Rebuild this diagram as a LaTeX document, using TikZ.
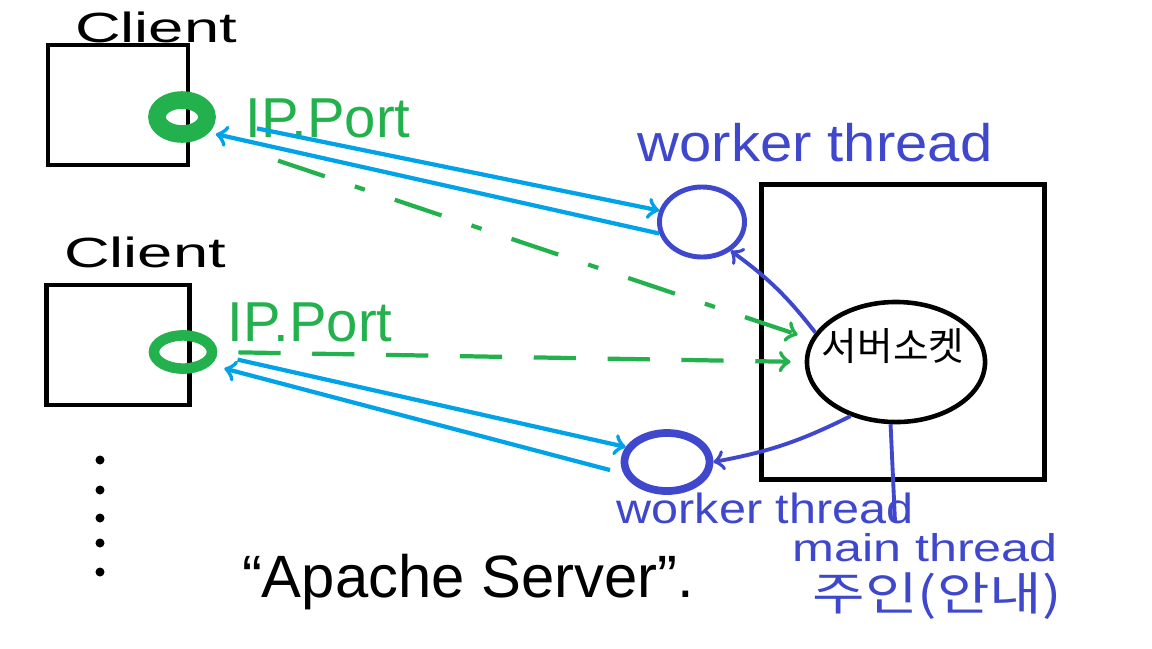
\documentclass[tikz,border=0pt]{standalone}
\usepackage{fontspec}
\setmainfont{Liberation Sans}
\newfontfamily\krfont{Noto Sans CJK KR}
\usetikzlibrary{shapes.geometric}
\definecolor{paintgreen}{RGB}{34,177,76}
\definecolor{paintcyan}{RGB}{0,162,232}
\definecolor{paintblue}{RGB}{63,72,204}

\tikzset{
  box/.style={draw, line width=1.2pt, minimum width=1.4cm, minimum height=1.2cm},
  socket/.style={ellipse, draw=paintgreen, line width=3pt},
  thread/.style={ellipse, draw=paintblue, line width=1.4pt},
  msg/.style={->, paintcyan, line width=1.2pt},
  conn/.style={->, paintgreen, line width=1.2pt},
  hand/.style={paintblue, line width=1.1pt},
  wide/.style={xscale=#1, transform shape},
}

\begin{document}
\begin{tikzpicture}[x=0.01cm, y=-0.01cm]
\path[fill=white, use as bounding box] (0,0) rectangle (1152,648);

\begin{scope}
  \node[box] (client1) at (118,105) {};
  \node[wide=1.5, font=\fontsize{12}{14}\selectfont] (client1label) at (156,27) {Client};
  \node[socket, line width=5pt, minimum width=0.5cm, minimum height=0.34cm] (sock1) at (182,117) {};
  \node[text=paintgreen, font=\fontsize{16}{18}\selectfont] (port1) at (328,118) {IP.Port};
\end{scope}

\begin{scope}
  \node[box, minimum width=1.43cm] (client2) at (118,345) {};
  \node[wide=1.5, font=\fontsize{12}{14}\selectfont] (client2label) at (145,252) {Client};
  \node[socket, minimum width=0.58cm, minimum height=0.3cm] (sock2) at (183,352) {};
  \node[text=paintgreen, font=\fontsize{16}{18}\selectfont] (port2) at (310,322) {IP.Port};
\end{scope}

\foreach \y in {460,490,518,543,572}
  \fill (100,\y) circle (0.045cm);

\node[font=\fontsize{17}{20}\selectfont] (apache) at (468,582) {“Apache Server”.};

\begin{scope}
  \node[draw, line width=1.2pt, minimum width=2.83cm, minimum height=2.95cm] (server) at (903,332) {};
  \node[ellipse, draw, line width=1.3pt, minimum width=1.78cm, minimum height=1.2cm] (srvsock) at (896,362) {};
  \node[font=\krfont\fontsize{11}{13}\selectfont] (srvlabel) at (893,346) {서버소켓};
\end{scope}

\begin{scope}
  \node[thread, minimum width=0.85cm, minimum height=0.7cm] (worker1) at (702,222) {};
  \node[wide=1.1, text=paintblue, font=\fontsize{15}{17}\selectfont] (worker1label) at (815,143) {worker thread};
  \node[thread, line width=2.2pt, minimum width=0.85cm, minimum height=0.58cm] (worker2) at (667,462) {};
  \node[wide=1.15, text=paintblue, font=\fontsize{12}{14}\selectfont] (worker2label) at (765,508) {worker thread};
  \node[wide=1.3, text=paintblue, font=\fontsize{11}{13}\selectfont] (mainlabel) at (925,548) {main thread};
  \node[wide=1.25, text=paintblue, font=\krfont\fontsize{13}{15}\selectfont] (ownerlabel) at (937,596) {주인(안내)};
\end{scope}

\draw[msg, shorten <=12pt] (sock1.-5) -- (worker1.165);
\draw[msg, shorten >=2pt] (worker1.195) -- (sock1.-30);
\draw[msg, shorten <=6pt] (sock2.-5) -- (worker2.160);
\draw[msg, shorten >=4pt, shorten <=4pt] (worker2.195) -- (sock2.-25);

\draw[conn, dash pattern=on 14pt off 9pt on 3pt off 9pt, shorten <=22pt, shorten >=4pt] (sock1.-40) -- (srvsock.165);
\draw[conn, dash pattern=on 12pt off 9pt, shorten <=6pt, shorten >=4pt] (sock2.east) -- (srvsock.west);

\draw[hand, ->] (srvsock.160) to[bend right=8] (worker1.-45);
\draw[hand, ->] (srvsock.-130) to[bend left=8] (worker2.east);
\draw[hand] (srvsock.-95) -- ([xshift=-0.3cm]mainlabel.north);

\end{tikzpicture}
\end{document}
